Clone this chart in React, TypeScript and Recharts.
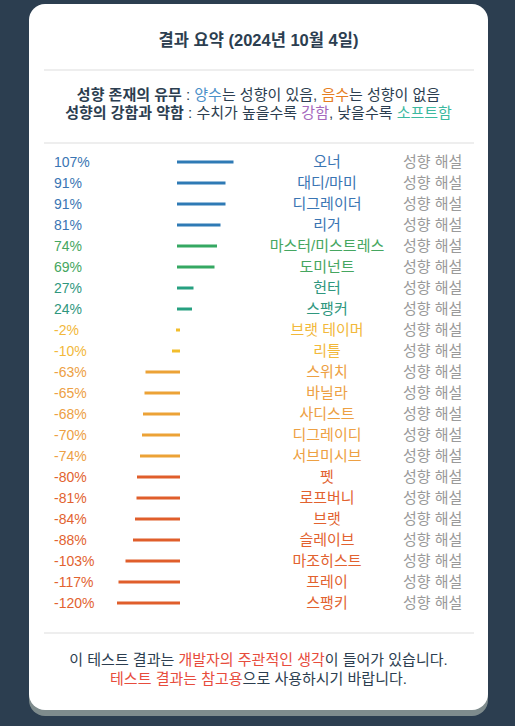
import { BarChart, Bar, XAxis, YAxis, Cell } from 'recharts';

// 성향 이름과 점수 (위에서 아래 순서)
const names = [
  '오너', '대디/마미', '디그레이더', '리거', '마스터/미스트레스', '도미넌트', '헌터', '스팽커',
  '브랫 테이머', '리틀', '스위치', '바닐라', '사디스트', '디그레이디', '서브미시브',
  '펫', '로프버니', '브랫', '슬레이브', '마조히스트', '프레이', '스팽키',
];
const scores = [107, 91, 91, 81, 74, 69, 27, 24, -2, -10, -63, -65, -68, -70, -74, -80, -81, -84, -88, -103, -117, -120];
const descLabel = '성향 해설';
const xDomain = [-252, 588];

const rows = names.map((name, i) => ({ name, score: scores[i] }));

const FONT = '"Liberation Sans", "Noto Sans CJK KR", sans-serif';

function tone(v: number) {
  if (v >= 80) return '#2e7ab5';
  if (v >= 50) return '#35a862';
  if (v >= 0) return '#26a080';
  if (v > -50) return '#f2bd2c';
  if (v > -75) return '#eca236';
  return '#e05e2b';
}

function textTone(v: number) {
  if (v >= 80) return '#3a75b3';
  if (v >= 50) return '#45a660';
  if (v >= 0) return '#2f977e';
  if (v > -50) return '#f2b83a';
  if (v > -75) return '#eda043';
  return '#e2622f';
}

function RowTick({ y, index }: any) {
  const v = scores[index];
  return (
    <g fontFamily={FONT}>
      <text x={14} y={y} dy="0.35em" fontSize={14} fill={textTone(v)}>{v}%</text>
      <text x={287} y={y} dy="0.35em" fontSize={15} textAnchor="middle" fill={textTone(v)}>{names[index]}</text>
      <text x={363} y={y} dy="0.35em" fontSize={15} fill="#9a9a9a">{descLabel}</text>
    </g>
  );
}

function LineBar({ x, y, width, height, fill }: any) {
  const left = Math.min(x, x + width);
  const w = Math.abs(width);
  return <rect x={left - 1.5} y={y} width={w + 3} height={height} fill={fill} />;
}

const hr = (top: number) => (
  <div style={{ position: 'absolute', left: 44, width: 430, top, height: 2, background: '#eeeeee' }} />
);

export default function App() {
  return (
    <div style={{ position: 'fixed', left: 0, top: 0, width: 515, height: 726, background: '#2c3e50', fontFamily: FONT }}>
      <div style={{
        position: 'absolute', left: 29, top: 4, width: 459, height: 706, background: '#fff',
        borderRadius: 16, boxShadow: '0 6px 0 #7f8c8d',
      }} />
      <div style={{ position: 'absolute', left: 29, width: 459, top: 29, lineHeight: '22px', textAlign: 'center', fontSize: 16.5, fontWeight: 'bold', color: '#2c3e50' }}>
        결과 요약 (2024년 10월 4일)
      </div>
      {hr(69)}
      <div style={{ position: 'absolute', left: 29, width: 459, top: 86, lineHeight: '18px', textAlign: 'center', fontSize: 15, color: '#2c3e50' }}>
        <div><b>성향 존재의 유무</b> : <span style={{ color: '#4a90c8' }}>양수</span>는 성향이 있음, <span style={{ color: '#e67e22' }}>음수</span>는 성향이 없음</div>
        <div><b>성향의 강함과 약함</b> : 수치가 높을수록 <span style={{ color: '#a569bd' }}>강함</span>, 낮을수록 <span style={{ color: '#3cb9a0' }}>소프트함</span></div>
      </div>
      {hr(142)}
      <div style={{ position: 'absolute', left: 40, top: 140 }}>
        <BarChart width={440} height={490} data={rows} layout="vertical"
          margin={{ top: 11.5, right: 7.5, bottom: 16.5, left: 0 }} barCategoryGap={0}>
          <XAxis type="number" domain={xDomain} hide />
          <YAxis type="category" dataKey="name" width={12.5} axisLine={false} tickLine={false}
            interval={0} tick={<RowTick />} />
          <Bar dataKey="score" barSize={3} shape={<LineBar />} isAnimationActive={false}>
            {rows.map((r, i) => <Cell key={i} fill={tone(r.score)} />)}
          </Bar>
        </BarChart>
      </div>
      {hr(632)}
      <div style={{ position: 'absolute', left: 29, width: 459, top: 650, lineHeight: '19px', textAlign: 'center', fontSize: 15, color: '#2c3e50' }}>
        <div>이 테스트 결과는 <span style={{ color: '#e74c3c' }}>개발자의 주관적인 생각</span>이 들어가 있습니다.</div>
        <div><span style={{ color: '#e74c3c' }}>테스트 결과는 참고용</span>으로 사용하시기 바랍니다.</div>
      </div>
    </div>
  );
}
